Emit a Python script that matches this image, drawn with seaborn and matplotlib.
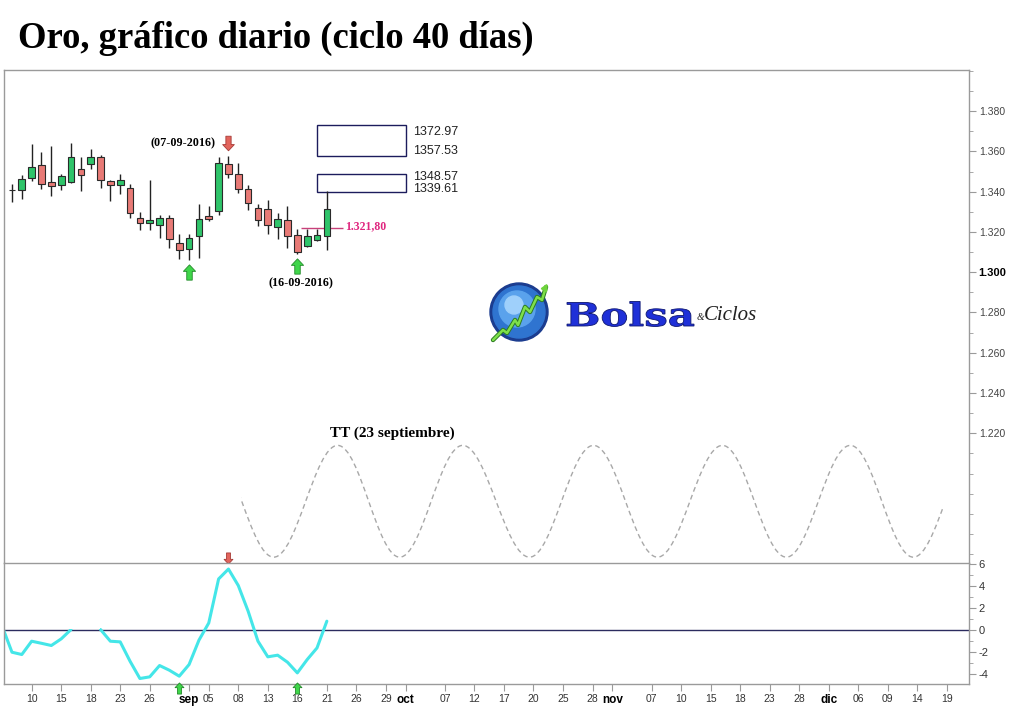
import numpy as np
import pandas as pd
import matplotlib
matplotlib.use("Agg")
import matplotlib.pyplot as plt
import seaborn as sns
from matplotlib.path import Path
from matplotlib.patches import PathPatch, Rectangle, Circle
from matplotlib.textpath import TextPath
from matplotlib.font_manager import FontProperties
from matplotlib.ticker import MultipleLocator
import matplotlib.transforms as mtransforms

sns.set_style("white")
plt.rcParams['font.family'] = ['Liberation Sans', 'DejaVu Sans']
plt.rcParams['text.color'] = 'black'

# ---------------------------------------------
# Data
# ---------------------------------------------
candle_dates = pd.bdate_range('2016-08-08', '2016-09-21')
opens = [1341.0, 1341.0, 1347.0, 1353.1, 1344.7, 1343.5, 1344.8, 1351.0, 1353.5, 1357.0, 1345.2,
         1343.5, 1342.0, 1327.1, 1324.6, 1323.6, 1327.1, 1314.7, 1311.7, 1318.0, 1327.9, 1330.4,
         1353.5, 1349.0, 1341.5, 1332.1, 1331.6, 1322.5, 1325.8, 1318.3, 1313.0, 1316.2, 1318.0]
highs = [1344.0, 1348.5, 1363.6, 1359.5, 1362.6, 1349.0, 1364.4, 1357.0, 1361.4, 1358.3, 1345.7,
         1348.7, 1344.0, 1329.9, 1346.0, 1328.6, 1328.6, 1319.2, 1318.8, 1334.1, 1332.7, 1357.3,
         1357.6, 1354.3, 1343.5, 1333.7, 1336.0, 1329.6, 1332.7, 1321.6, 1321.6, 1321.6, 1340.2]
lows = [1334.9, 1336.1, 1345.3, 1341.2, 1337.7, 1340.7, 1344.3, 1340.3, 1351.0, 1341.8, 1335.4,
        1338.7, 1326.9, 1320.8, 1320.8, 1317.1, 1312.2, 1306.7, 1305.9, 1307.2, 1325.4, 1328.4,
        1346.8, 1339.1, 1331.1, 1323.0, 1318.8, 1316.6, 1312.0, 1309.2, 1312.5, 1315.5, 1310.8]
closes = [1341.0, 1346.5, 1352.0, 1344.0, 1343.0, 1347.7, 1357.0, 1348.5, 1357.0, 1346.0, 1343.5,
          1346.0, 1329.6, 1324.6, 1325.8, 1327.1, 1316.6, 1311.2, 1317.1, 1326.6, 1326.3, 1354.0,
          1349.0, 1341.5, 1334.6, 1325.8, 1323.6, 1326.3, 1318.0, 1310.0, 1317.8, 1318.3, 1331.6]

# oscillator (gap where the line is not shown)
osc_dates = pd.bdate_range('2016-08-05', '2016-09-21')
osc_values = [0.3, -2.06, -2.27, -1.06, -1.25, -1.45, -0.85, 0.0, np.nan, np.nan, 0.0, -1.06,
              -1.12, -2.88, -4.45, -4.3, -3.27, -3.7, -4.24, -3.18, -0.97, 0.6, 4.6, 5.5, 4.0,
              1.67, -1.06, -2.48, -2.33, -2.97, -3.94, -2.73, -1.67, 0.76]

# projected cycle: turning points (trading-day position, price)
wave_turn_x = [20.1, 26.6, 33.1, 39.4, 45.8, 52.6, 59.1, 65.6, 72.2, 78.7, 85.2, 91.6, 98.1]
wave_turn_y = [1214, 1158.5, 1214, 1158.5, 1214, 1158.5, 1214, 1158.5, 1214, 1158.5, 1214, 1158.5, 1214]
wave_start, wave_end = 23.3, 94.6

# target boxes
box_bottoms = [1357.53, 1339.61]
box_tops = [1372.97, 1348.57]
box_left, box_right = 31.0, 40.0
support_level = 1321.80
support_label = '1.321,80'

# x tick labels
tick_dates = ['2016-08-10', '2016-08-15', '2016-08-18', '2016-08-23', '2016-08-26',
              '2016-09-01', '2016-09-05', '2016-09-08', '2016-09-13', '2016-09-16', '2016-09-21',
              '2016-09-26', '2016-09-29', '2016-10-03', '2016-10-07', '2016-10-12', '2016-10-17',
              '2016-10-20', '2016-10-25', '2016-10-28', '2016-11-01', '2016-11-07', '2016-11-10',
              '2016-11-15', '2016-11-18', '2016-11-23', '2016-11-28', '2016-12-01', '2016-12-06',
              '2016-12-09', '2016-12-14', '2016-12-19']
month_names = {8: 'ago', 9: 'sep', 10: 'oct', 11: 'nov', 12: 'dic'}

# arrows
up_arrows_main = ['2016-09-01', '2016-09-16']
up_arrows_main_y = [1299.9, 1302.9]
down_arrow_main = '2016-09-07'
up_arrows_osc = ['2016-08-31', '2016-09-16']

# ---------------------------------------------
# Helpers
# ---------------------------------------------
all_days = pd.bdate_range('2016-08-08', '2016-12-30')


def pos(d):
    return all_days.get_loc(pd.Timestamp(d)) if pd.Timestamp(d) >= all_days[0] else -1


up_arrow = Path([(0, 1), (-0.8, 0.15), (-0.36, 0.15), (-0.36, -1), (0.36, -1), (0.36, 0.15),
                 (0.8, 0.15), (0, 1)],
                [Path.MOVETO] + [Path.LINETO] * 6 + [Path.CLOSEPOLY])
down_arrow = Path(up_arrow.vertices * np.array([1, -1]), up_arrow.codes)

GREEN, GREEN_EDGE = '#3fd64a', '#238a2a'
RED, RED_EDGE = '#e2645c', '#a63a36'
SPINE = '#9a9a9a'

# ---------------------------------------------
# Figure
# ---------------------------------------------
fig = plt.figure(figsize=(10.24, 7.06), dpi=100)
fig.patch.set_facecolor('white')
W, H = 1024, 706
ax = fig.add_axes([4 / W, 1 - 563 / H, 965 / W, 493 / H])
axo = fig.add_axes([4 / W, 1 - 684 / H, 965 / W, 121 / H])

x0, x1 = -0.81, 97.26
ax.set_xlim(x0, x1)
axo.set_xlim(x0, x1)
ax.set_ylim(1155.6, 1400.4)
axo.set_ylim(-4.95, 6.05)

# candles
cx = [pos(d) for d in candle_dates]
df = pd.DataFrame({'x': cx, 'o': opens, 'h': highs, 'l': lows, 'c': closes})
df['up'] = df['c'] >= df['o']
ax.vlines(df['x'], df['l'], df['h'], color='#222222', lw=1.0, zorder=2)
ax.bar(df['x'], (df['c'] - df['o']).abs(), bottom=df[['o', 'c']].min(axis=1), width=0.68,
       color=np.where(df['up'], '#2fc46a', '#e87a76'), edgecolor='#2a2a2a', lw=0.8, zorder=3)

# target boxes (label offsets in points from the box edges)
label_offsets = [(-5, 4), (-2, 2.5)]
for (b, t), (ot, ob) in zip(zip(box_bottoms, box_tops), label_offsets):
    ax.add_patch(Rectangle((box_left, b), box_right - box_left, t - b, fill=False,
                           edgecolor='#1c1c5c', lw=1.0))
    ax.annotate(f'{t:.2f}', (box_right + 0.8, t), xytext=(0, ot), textcoords='offset points',
                va='center', ha='left', fontsize=9, color='#222222')
    ax.annotate(f'{b:.2f}', (box_right + 0.8, b), xytext=(0, ob), textcoords='offset points',
                va='center', ha='left', fontsize=9, color='#222222')

# support line
ax.hlines(support_level, 29.4, 33.6, color='#c8407a', lw=1.0)
ax.text(33.9, support_level + 0.9, support_label, va='center', ha='left', fontsize=8.5,
        color='#e0267f', fontweight='bold', family='Liberation Serif')

# arrows main
ax.plot([pos(d) for d in up_arrows_main], up_arrows_main_y, ls='none', marker=up_arrow,
        ms=11, mfc=GREEN, mec=GREEN_EDGE, mew=0.6, zorder=4)
ax.plot([pos(down_arrow_main)], [1364.1], ls='none', marker=down_arrow, ms=10.5,
        mfc=RED, mec=RED_EDGE, mew=0.6, zorder=4)
ax.plot([pos(down_arrow_main)], [1158.3], ls='none', marker=down_arrow, ms=8,
        mfc=RED, mec=RED_EDGE, mew=0.6, zorder=4, clip_on=False)

# date annotations
ax.text(20.65, 1364.1, '(07-09-2016)', ha='right', va='center', fontsize=8.7, fontweight='bold',
        family='Liberation Serif', color='black')
ax.text(29.4, 1294.4, '(16-09-2016)', ha='center', va='center', fontsize=8.7, fontweight='bold',
        family='Liberation Serif', color='black')
ax.text(32.3, 1220.2, 'TT (23 septiembre)', ha='left', va='center', fontsize=11,
        fontweight='bold', family='Liberation Serif', color='black')

# projected cycle (smooth curve through turning points)
verts, codes = [(wave_turn_x[0], wave_turn_y[0])], [Path.MOVETO]
for i in range(len(wave_turn_x) - 1):
    xa, ya, xb, yb = wave_turn_x[i], wave_turn_y[i], wave_turn_x[i + 1], wave_turn_y[i + 1]
    k = 0.364 * (xb - xa)
    verts += [(xa + k, ya), (xb - k, yb), (xb, yb)]
    codes += [Path.CURVE4] * 3
wave = PathPatch(Path(verts, codes), fill=False, edgecolor='#a8a8a8', lw=1.0,
                 linestyle=(0, (3.5, 2.5)))
ax.add_patch(wave)
clip = Rectangle((wave_start, 1150), wave_end - wave_start, 100, transform=ax.transData)
wave.set_clip_path(clip)

# oscillator
seg = np.cumsum(np.isnan(osc_values))
osc = pd.DataFrame({'x': [pos(d) for d in osc_dates], 'v': osc_values, 'seg': seg}).dropna()
axo.axhline(0, color='#2b2b5e', lw=1.0, zorder=1)
sns.lineplot(data=osc, x='x', y='v', units='seg', estimator=None, color='#44e6e8', lw=2.2,
             ax=axo, zorder=2)
# hide the part of the line that is blank in the original
axo.add_patch(Rectangle((5.45, 0.02), 3.5, 3, facecolor='white', edgecolor='none', zorder=3))
axo.plot([pos(d) for d in up_arrows_osc], [-5.35, -5.35], ls='none', marker=up_arrow, ms=8,
         mfc=GREEN, mec=GREEN_EDGE, mew=0.6, zorder=5, clip_on=False)

# ---------------------------------------------
# Axes styling
# ---------------------------------------------
for a in (ax, axo):
    for s in a.spines.values():
        s.set_color(SPINE)
        s.set_linewidth(1.0)
    a.yaxis.tick_right()
    a.set_xlabel('')
    a.set_ylabel('')
ax.spines['bottom'].set_visible(False)
ax.set_xticks([])

yt = list(range(1220, 1381, 20))
ax.set_yticks(yt, labels=[f'{v / 1000:.3f}' for v in yt])
ax.yaxis.set_minor_locator(MultipleLocator(10))
ax.tick_params(axis='y', which='both', right=True, direction='out', colors=SPINE,
               labelcolor='#444444', labelsize=7.5, pad=2)
ax.tick_params(axis='y', which='major', length=5)
ax.tick_params(axis='y', which='minor', length=3)
for lab, v in zip(ax.get_yticklabels(), yt):
    if v == 1300:
        lab.set_fontweight('bold')
        lab.set_color('black')
        lab.set_fontsize(8)

axo.set_yticks([-4, -2, 0, 2, 4, 6], labels=['-4', '-2', '0', '2', '4', '6'])
axo.yaxis.set_minor_locator(MultipleLocator(1))
axo.tick_params(axis='y', which='both', right=True, direction='out', colors=SPINE,
                labelcolor='#333333', labelsize=8, pad=2)
axo.tick_params(axis='y', which='major', length=5)
axo.tick_params(axis='y', which='minor', length=3)

tp = [pos(d) for d in tick_dates]
tl = []
for d in tick_dates:
    ts = pd.Timestamp(d)
    first_bd = pd.bdate_range(ts.replace(day=1), ts)[0]
    tl.append(month_names[ts.month] if ts == first_bd and ts.month != 8 else f'{ts.day:02d}')
axo.set_xticks(tp, labels=tl)
axo.tick_params(axis='x', bottom=True, direction='out', length=5, colors=SPINE,
                labelcolor='#333333', labelsize=7.5, pad=2)
for lab in axo.get_xticklabels():
    if lab.get_text() in month_names.values():
        lab.set_fontweight('bold')
        lab.set_color('black')
        lab.set_fontsize(8.5)

# ---------------------------------------------
# Title
# ---------------------------------------------
fig.text(18 / W, 1 - 48 / H, 'Oro, gráfico diario (ciclo 40 días)', fontsize=26.4,
         fontweight='bold', family='Liberation Serif', va='baseline', ha='left', color='black')

# ---------------------------------------------
# Logo
# ---------------------------------------------
lg = fig.add_axes([480 / W, 1 - 350 / H, 300 / W, 80 / H])
lg.set_xlim(0, 300)
lg.set_ylim(80, 0)
lg.axis('off')
lg.add_patch(Circle((39, 42), 29, color='#1b3c8f'))
lg.add_patch(Circle((39, 42), 26, color='#2f74d0'))
lg.add_patch(Circle((37, 39), 18, color='#5aa2ec'))
lg.add_patch(Circle((34, 35), 9, color='#9fd0fb'))
zig_x = [13, 23, 27, 35, 38, 45, 50, 57, 62, 66]
zig_y = [70, 60, 63, 50, 55, 37, 42, 27, 30, 17]
lg.plot(zig_x, zig_y, color='#2c7a22', lw=3.2, solid_capstyle='round')
lg.plot(zig_x, zig_y, color='#7ee04a', lw=1.8, solid_capstyle='round')
lg.annotate('', xy=(69, 11), xytext=(64, 20),
            arrowprops=dict(arrowstyle='-|>', color='#6fd43c', lw=1.5, mutation_scale=9))

tpath = TextPath((0, 0), 'Bolsa', size=1, prop=FontProperties(family='DejaVu Serif', weight='bold'))
bb = tpath.get_extents()
sx, sy = 127 / bb.width, 25 / bb.height
tr = mtransforms.Affine2D().translate(-bb.x0, 0).scale(sx, -sy).translate(87, 56)
lg.add_patch(PathPatch(tr.transform_path(tpath), facecolor='#1f30d8', edgecolor='#0d1670', lw=0.6))
lg.text(217, 50, '&', fontsize=7, family='Liberation Serif', style='italic', color='#222222',
        va='baseline')
lg.text(224, 50, 'Ciclos', fontsize=15, family='Liberation Serif', style='italic', color='#222222',
        va='baseline')

fig.savefig('out.png', dpi=100, facecolor='white')
